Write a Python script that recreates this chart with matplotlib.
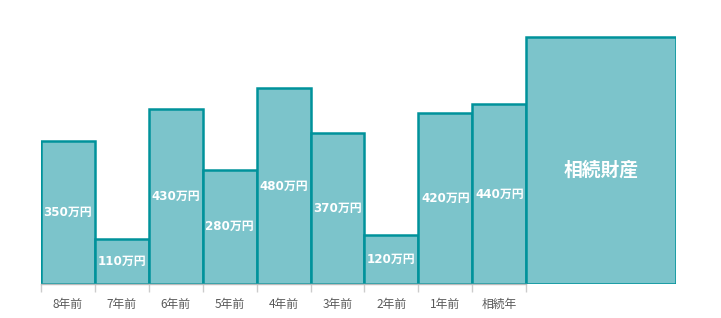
import matplotlib
matplotlib.use("Agg")
import matplotlib.pyplot as plt

plt.rcParams['font.family'] = ['Noto Sans CJK JP', 'DejaVu Sans']

categories = ["8年前", "7年前", "6年前", "5年前", "4年前", "3年前", "2年前", "1年前", "相続年"]
values = [350, 110, 430, 280, 480, 370, 120, 420, 440]
value_labels = ["350万円", "110万円", "430万円", "280万円", "480万円", "370万円", "120万円", "420万円", "440万円"]
estate_label = "相続財産"
estate_value = 605

face = "#7cc4cb"
edge = "#00929b"

fig = plt.figure(figsize=(7.21, 3.18), dpi=100)
ax_h = 650 * 0.408
ax = fig.add_axes([41/721, 34/318, 635/721, ax_h/318])

n = len(categories)
xs = [i + 0.5 for i in range(n)]
ax.bar(xs, values, width=1.0, color=face, edgecolor=edge, linewidth=1.8)
estate_w = 150/54
ax.bar([n + estate_w/2], [estate_value], width=estate_w, color=face, edgecolor=edge, linewidth=1.8)

for x, v, lab in zip(xs, values, value_labels):
    ax.text(x, v/2, lab, ha='center', va='center', color='white', fontsize=8.6,
            fontweight='bold', family=['DejaVu Sans', 'Noto Sans CJK JP'])
ax.text(n + estate_w/2, estate_value/2 - 24, estate_label, ha='center', va='center',
        color='white', fontsize=13.5, fontweight='bold')

ax.set_xlim(0, n + estate_w)
ax.set_ylim(0, 650)
for s in ['top', 'right', 'left']:
    ax.spines[s].set_visible(False)
ax.spines['bottom'].set_bounds(0, n)
ax.spines['bottom'].set_color('#bbbbbb')
ax.spines['bottom'].set_linewidth(1)
ax.set_yticks([])
ax.set_xticks(xs)
ax.set_xticklabels(categories, fontsize=8.5, color='#595959')
ax.tick_params(axis='x', which='major', length=0, pad=10)
ax.set_xticks(list(range(n + 1)), minor=True)
ax.tick_params(axis='x', which='minor', length=6, color='#cccccc', width=1)

fig.savefig("out.png", dpi=100)
